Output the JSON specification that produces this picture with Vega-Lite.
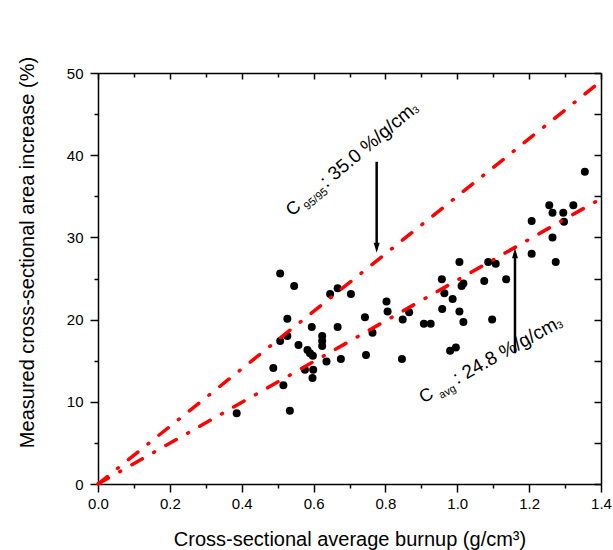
{
  "$schema": "https://vega.github.io/schema/vega-lite/v6.json",
  "width": 503,
  "height": 411,
  "autosize": {"type": "none"},
  "padding": {"left": 98, "top": 73, "right": 12, "bottom": 66},
  "config": {
    "view": {"stroke": null},
    "font": "Liberation Sans",
    "axis": {
      "grid": false,
      "domainColor": "black",
      "tickColor": "black",
      "domainWidth": 1.5,
      "tickWidth": 1.5,
      "labelColor": "black",
      "titleColor": "black",
      "labelFont": "Liberation Sans",
      "titleFont": "Liberation Sans",
      "titleFontWeight": "normal",
      "labelFontSize": 15,
      "labelOverlap": false,
      "labelFlush": false
    }
  },
  "datasets": {
    "points": [
      {"burnup": 1.355, "increase": 38.0}, {"burnup": 1.256, "increase": 33.9}, {"burnup": 1.323, "increase": 33.9},
      {"burnup": 1.265, "increase": 33.0}, {"burnup": 1.295, "increase": 33.0}, {"burnup": 1.297, "increase": 31.9},
      {"burnup": 1.207, "increase": 32.0}, {"burnup": 1.265, "increase": 30.0}, {"burnup": 1.207, "increase": 28.0},
      {"burnup": 1.274, "increase": 27.0}, {"burnup": 1.006, "increase": 27.0}, {"burnup": 1.086, "increase": 27.0},
      {"burnup": 1.107, "increase": 26.8}, {"burnup": 0.957, "increase": 24.9}, {"burnup": 1.075, "increase": 24.7},
      {"burnup": 1.136, "increase": 24.9}, {"burnup": 1.017, "increase": 24.4}, {"burnup": 1.012, "increase": 24.1},
      {"burnup": 0.964, "increase": 23.2}, {"burnup": 0.987, "increase": 22.5}, {"burnup": 0.958, "increase": 21.3},
      {"burnup": 1.006, "increase": 21.0}, {"burnup": 1.017, "increase": 19.7}, {"burnup": 1.097, "increase": 20.0},
      {"burnup": 0.803, "increase": 22.2}, {"burnup": 0.806, "increase": 21.0}, {"burnup": 0.866, "increase": 20.9},
      {"burnup": 0.848, "increase": 20.0}, {"burnup": 0.907, "increase": 19.5}, {"burnup": 0.926, "increase": 19.5},
      {"burnup": 0.743, "increase": 20.3}, {"burnup": 0.764, "increase": 18.4}, {"burnup": 0.980, "increase": 16.2},
      {"burnup": 0.996, "increase": 16.6}, {"burnup": 0.846, "increase": 15.2}, {"burnup": 0.746, "increase": 15.7},
      {"burnup": 0.507, "increase": 25.6}, {"burnup": 0.546, "increase": 24.1}, {"burnup": 0.646, "increase": 23.1},
      {"burnup": 0.667, "increase": 23.8}, {"burnup": 0.704, "increase": 23.1}, {"burnup": 0.527, "increase": 20.1},
      {"burnup": 0.595, "increase": 19.1}, {"burnup": 0.667, "increase": 19.1}, {"burnup": 0.624, "increase": 18.0},
      {"burnup": 0.624, "increase": 17.4}, {"burnup": 0.624, "increase": 16.8}, {"burnup": 0.507, "increase": 17.4},
      {"burnup": 0.527, "increase": 18.0}, {"burnup": 0.558, "increase": 16.9}, {"burnup": 0.583, "increase": 16.3},
      {"burnup": 0.590, "increase": 15.9}, {"burnup": 0.598, "increase": 15.6}, {"burnup": 0.636, "increase": 14.9},
      {"burnup": 0.676, "increase": 15.2}, {"burnup": 0.488, "increase": 14.1}, {"burnup": 0.576, "increase": 13.9},
      {"burnup": 0.599, "increase": 13.9}, {"burnup": 0.597, "increase": 12.9}, {"burnup": 0.516, "increase": 12.0},
      {"burnup": 0.534, "increase": 8.9}, {"burnup": 0.386, "increase": 8.6}
    ],
    "lines": [
      {"series": "C95/95", "burnup": 0, "increase": 0},
      {"series": "C95/95", "burnup": 1.4, "increase": 49.0},
      {"series": "Cavg", "burnup": 0, "increase": 0},
      {"series": "Cavg", "burnup": 1.4, "increase": 34.72}
    ],
    "arrows": [
      {"arrow": "down", "burnup": 0.7756, "from": 39.2, "to": 28.75},
      {"arrow": "up", "burnup": 1.1606, "from": 15.9, "to": 28.06}
    ]
  },
  "layer": [
    {
      "data": {"name": "points"},
      "mark": {"type": "point", "filled": true, "color": "black", "size": 64, "opacity": 1},
      "encoding": {
        "x": {
          "field": "burnup", "type": "quantitative",
          "scale": {"domain": [0, 1.4], "nice": false, "zero": false},
          "axis": {
            "orient": "bottom",
            "values": [0, 0.1, 0.2, 0.3, 0.4, 0.5, 0.6, 0.7, 0.8, 0.9, 1.0, 1.1, 1.2, 1.3, 1.4],
            "labelExpr": "round(datum.value*10)%2==0 ? format(datum.value, '.1f') : ''",
            "tickSize": {"condition": {"test": "round(datum.value*10)%2==0", "value": 8}, "value": 4},
            "labelPadding": 4,
            "title": "Cross-sectional average burnup (g/cm³)",
            "titleFontSize": 20,
            "titleBaseline": "alphabetic",
            "titleY": 61
          }
        },
        "y": {
          "field": "increase", "type": "quantitative",
          "scale": {"domain": [0, 50], "nice": false, "zero": false},
          "axis": {
            "orient": "left",
            "values": [0, 5, 10, 15, 20, 25, 30, 35, 40, 45, 50],
            "labelExpr": "datum.value%10==0 ? datum.label : ''",
            "tickSize": {"condition": {"test": "datum.value%10==0", "value": 8}, "value": 4},
            "labelPadding": 7,
            "title": "Measured cross-sectional area increase (%)",
            "titleFontSize": 20,
            "titleAngle": -90,
            "titleAlign": "center",
            "titleBaseline": "alphabetic",
            "titleX": -65,
            "titleY": 179
          }
        }
      }
    },
    {
      "data": {"name": "lines"},
      "mark": {"type": "line", "color": "#ff0000", "strokeWidth": 3.5, "strokeDash": [12, 13, 1, 13], "strokeCap": "round"},
      "encoding": {
        "x": {
          "field": "burnup", "type": "quantitative",
          "scale": {"domain": [0, 1.4], "nice": false, "zero": false},
          "axis": {
            "orient": "top",
            "values": [0, 0.1, 0.2, 0.3, 0.4, 0.5, 0.6, 0.7, 0.8, 0.9, 1.0, 1.1, 1.2, 1.3, 1.4],
            "labels": false,
            "tickSize": {"condition": {"test": "round(datum.value*10)%2==0", "value": -6}, "value": -4},
            "title": null
          }
        },
        "y": {
          "field": "increase", "type": "quantitative",
          "scale": {"domain": [0, 50], "nice": false, "zero": false},
          "axis": {
            "orient": "right",
            "values": [0, 5, 10, 15, 20, 25, 30, 35, 40, 45, 50],
            "labels": false,
            "tickSize": -7,
            "title": null
          }
        },
        "detail": {"field": "series"}
      }
    },
    {
      "data": {"name": "arrows"},
      "mark": {"type": "rule", "color": "black", "strokeWidth": 2.5},
      "encoding": {
        "x": {"field": "burnup", "type": "quantitative", "scale": {"domain": [0, 1.4], "nice": false, "zero": false}, "axis": null},
        "y": {"field": "from", "type": "quantitative", "scale": {"domain": [0, 50], "nice": false, "zero": false}, "axis": null},
        "y2": {"field": "to"}
      }
    },
    {
      "data": {"name": "arrows"},
      "transform": [{"filter": "datum.arrow == 'down'"}],
      "mark": {"type": "point", "filled": true, "color": "black", "opacity": 1, "size": 100, "shape": "M0,1L-0.6,-1L0.6,-1Z"},
      "encoding": {
        "x": {"field": "burnup", "type": "quantitative", "scale": {"domain": [0, 1.4], "nice": false, "zero": false}, "axis": null},
        "y": {"field": "to", "type": "quantitative", "scale": {"domain": [0, 50], "nice": false, "zero": false}, "axis": null}
      }
    },
    {
      "data": {"name": "arrows"},
      "transform": [{"filter": "datum.arrow == 'up'"}],
      "mark": {"type": "point", "filled": true, "color": "black", "opacity": 1, "size": 100, "shape": "M0,-1L-0.6,1L0.6,1Z"},
      "encoding": {
        "x": {"field": "burnup", "type": "quantitative", "scale": {"domain": [0, 1.4], "nice": false, "zero": false}, "axis": null},
        "y": {"field": "to", "type": "quantitative", "scale": {"domain": [0, 50], "nice": false, "zero": false}, "axis": null}
      }
    },
    {
      "data": {"values": [{"burnup": 0.540, "increase": 32.5, "label": "C"}]},
      "mark": {"type": "text", "angle": 320, "align": "left", "baseline": "alphabetic", "fontSize": 18, "color": "black"},
      "encoding": {
        "x": {"field": "burnup", "type": "quantitative", "scale": {"domain": [0, 1.4], "nice": false, "zero": false}, "axis": null},
        "y": {"field": "increase", "type": "quantitative", "scale": {"domain": [0, 50], "nice": false, "zero": false}, "axis": null},
        "text": {"field": "label"}
      }
    },
    {
      "data": {"values": [{"burnup": 0.540, "increase": 32.5, "label": "95/95"}]},
      "mark": {"type": "text", "angle": 320, "align": "left", "baseline": "alphabetic", "fontSize": 11, "dx": 16, "dy": 5, "color": "black"},
      "encoding": {
        "x": {"field": "burnup", "type": "quantitative", "scale": {"domain": [0, 1.4], "nice": false, "zero": false}, "axis": null},
        "y": {"field": "increase", "type": "quantitative", "scale": {"domain": [0, 50], "nice": false, "zero": false}, "axis": null},
        "text": {"field": "label"}
      }
    },
    {
      "data": {"values": [{"burnup": 0.540, "increase": 32.5, "label": ": 35.0 %/g/cm"}]},
      "mark": {"type": "text", "angle": 320, "align": "left", "baseline": "alphabetic", "fontSize": 19, "dx": 45, "color": "black"},
      "encoding": {
        "x": {"field": "burnup", "type": "quantitative", "scale": {"domain": [0, 1.4], "nice": false, "zero": false}, "axis": null},
        "y": {"field": "increase", "type": "quantitative", "scale": {"domain": [0, 50], "nice": false, "zero": false}, "axis": null},
        "text": {"field": "label"}
      }
    },
    {
      "data": {"values": [{"burnup": 0.540, "increase": 32.5, "label": "3"}]},
      "mark": {"type": "text", "angle": 320, "align": "left", "baseline": "alphabetic", "fontSize": 10, "dx": 161, "dy": 1, "color": "black"},
      "encoding": {
        "x": {"field": "burnup", "type": "quantitative", "scale": {"domain": [0, 1.4], "nice": false, "zero": false}, "axis": null},
        "y": {"field": "increase", "type": "quantitative", "scale": {"domain": [0, 50], "nice": false, "zero": false}, "axis": null},
        "text": {"field": "label"}
      }
    },
    {
      "data": {"values": [{"burnup": 0.905, "increase": 9.8, "label": "C"}]},
      "mark": {"type": "text", "angle": 331, "align": "left", "baseline": "alphabetic", "fontSize": 18, "color": "black"},
      "encoding": {
        "x": {"field": "burnup", "type": "quantitative", "scale": {"domain": [0, 1.4], "nice": false, "zero": false}, "axis": null},
        "y": {"field": "increase", "type": "quantitative", "scale": {"domain": [0, 50], "nice": false, "zero": false}, "axis": null},
        "text": {"field": "label"}
      }
    },
    {
      "data": {"values": [{"burnup": 0.905, "increase": 9.8, "label": "avg"}]},
      "mark": {"type": "text", "angle": 331, "align": "left", "baseline": "alphabetic", "fontSize": 11, "dx": 18, "dy": 5, "color": "black"},
      "encoding": {
        "x": {"field": "burnup", "type": "quantitative", "scale": {"domain": [0, 1.4], "nice": false, "zero": false}, "axis": null},
        "y": {"field": "increase", "type": "quantitative", "scale": {"domain": [0, 50], "nice": false, "zero": false}, "axis": null},
        "text": {"field": "label"}
      }
    },
    {
      "data": {"values": [{"burnup": 0.905, "increase": 9.8, "label": ": 24.8 %/g/cm"}]},
      "mark": {"type": "text", "angle": 331, "align": "left", "baseline": "alphabetic", "fontSize": 19, "dx": 39, "color": "black"},
      "encoding": {
        "x": {"field": "burnup", "type": "quantitative", "scale": {"domain": [0, 1.4], "nice": false, "zero": false}, "axis": null},
        "y": {"field": "increase", "type": "quantitative", "scale": {"domain": [0, 50], "nice": false, "zero": false}, "axis": null},
        "text": {"field": "label"}
      }
    },
    {
      "data": {"values": [{"burnup": 0.905, "increase": 9.8, "label": "3"}]},
      "mark": {"type": "text", "angle": 331, "align": "left", "baseline": "alphabetic", "fontSize": 10, "dx": 155, "dy": 1, "color": "black"},
      "encoding": {
        "x": {"field": "burnup", "type": "quantitative", "scale": {"domain": [0, 1.4], "nice": false, "zero": false}, "axis": null},
        "y": {"field": "increase", "type": "quantitative", "scale": {"domain": [0, 50], "nice": false, "zero": false}, "axis": null},
        "text": {"field": "label"}
      }
    }
  ],
  "resolve": {"axis": {"x": "independent", "y": "independent"}}
}
